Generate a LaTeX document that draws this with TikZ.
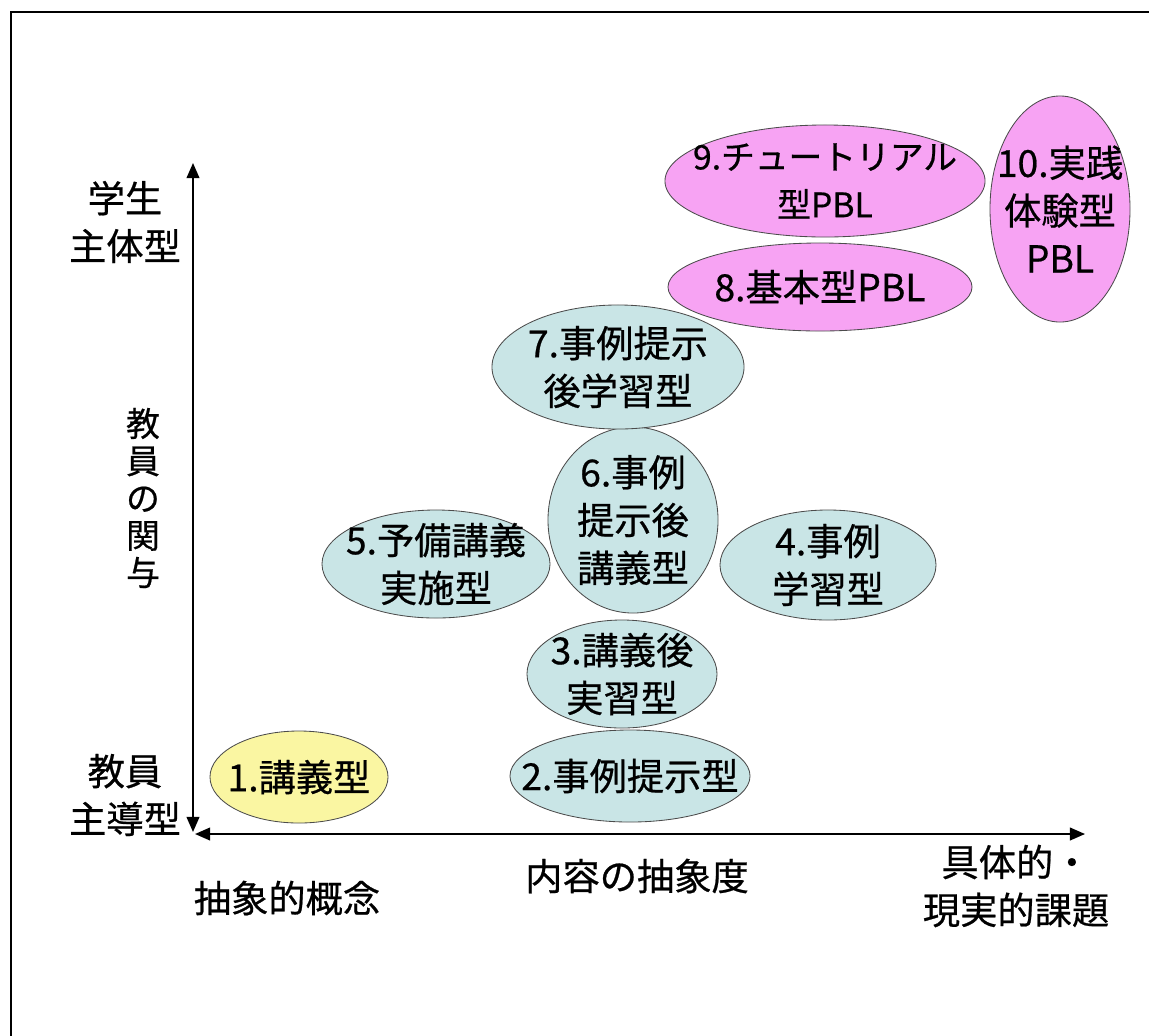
\documentclass[tikz,border=0pt]{standalone}
\usepackage{fontspec}
\setmainfont{Noto Sans CJK JP}[FakeBold=0.6]
\usetikzlibrary{shapes.geometric,arrows.meta}
\definecolor{paleblue}{HTML}{C9E5E6}
\definecolor{palepink}{HTML}{F7A3F3}
\definecolor{paleyellow}{HTML}{FAF6A2}
\tikzset{x=0.025cm, y=-0.025cm,
  every node/.style={inner sep=0pt, align=center, font=\fontsize{26.5}{34}\selectfont},
  oval/.style 2 args={ellipse, draw=black!70, line width=0.6pt, minimum width=#1, minimum height=#2},
  blueoval/.style 2 args={oval={#1}{#2}, fill=paleblue},
  pinkoval/.style 2 args={oval={#1}{#2}, fill=palepink},
  yellowoval/.style 2 args={oval={#1}{#2}, fill=paleyellow},
  axis/.style={line width=1.3pt, {Triangle[length=0.38cm,width=0.32cm]}-{Triangle[length=0.38cm,width=0.32cm]}}}

\begin{document}
\begin{tikzpicture}
  \useasboundingbox (0,0) rectangle (1149,1035);
  \draw[line width=1.4pt] (11,12) rectangle (1170,1060);
  % axes
  \coordinate (ybot)   at (193,832);
  \coordinate (ytop)   at (193,163);
  \coordinate (xleft)  at (195,834);
  \coordinate (xright) at (1085,834);
  \draw[axis] (ybot) -- (ytop);
  \draw[axis] (xleft) -- (xright);
  % axis labels
  \node (student) at (125,222) {学生\\主体型};
  \node (teacher) at (143,498) [font=\fontsize{24}{26.5}\selectfont] {教\\員\\の\\関\\与};
  \node (lead)    at (125,795) {教員\\主導型};
  \node (abst)    at (287,898) {抽象的概念};
  \node (degree)  at (637,876) {内容の抽象度};
  \node (real)    at (1016,886) {具体的・\\現実的課題};
  % ovals
  \node[yellowoval={4.45cm}{2.3cm}, label={center:1.講義型}]          (e1)  at (299,777) {};
  \node[blueoval={6cm}{2.3cm}, label={center:2.事例提示型}]           (e2)  at (630,776) {};
  \node[blueoval={4.75cm}{2.7cm}, label={center:3.講義後\\実習型}]    (e3)  at (622,674) {};
  \node[blueoval={5.4cm}{2.75cm}, label={center:4.事例\\学習型}]      (e4)  at (828,565) {};
  \node[blueoval={5.7cm}{2.7cm}, label={center:5.予備講義\\実施型}]   (e5)  at (436,564) {};
  \node[blueoval={4.25cm}{4.65cm}, label={center:6.事例\\提示後\\講義型}] (e6) at (633,520) {};
  \node[blueoval={6.3cm}{3.1cm}, label={center:7.事例提示\\後学習型}] (e7)  at (618,367) {};
  \node[pinkoval={7.6cm}{2.2cm}, label={center:8.基本型PBL}]         (e8)  at (820,287) {};
  \node[pinkoval={8cm}{2.8cm}, label={[font=\fontsize{24}{34}\selectfont]center:9.チュートリアル\\型PBL}] (e9) at (825,181) {};
  \node[pinkoval={3.5cm}{5.65cm}, label={center:10.実践\\体験型\\PBL}] (e10) at (1060,209) {};
\end{tikzpicture}
\end{document}
